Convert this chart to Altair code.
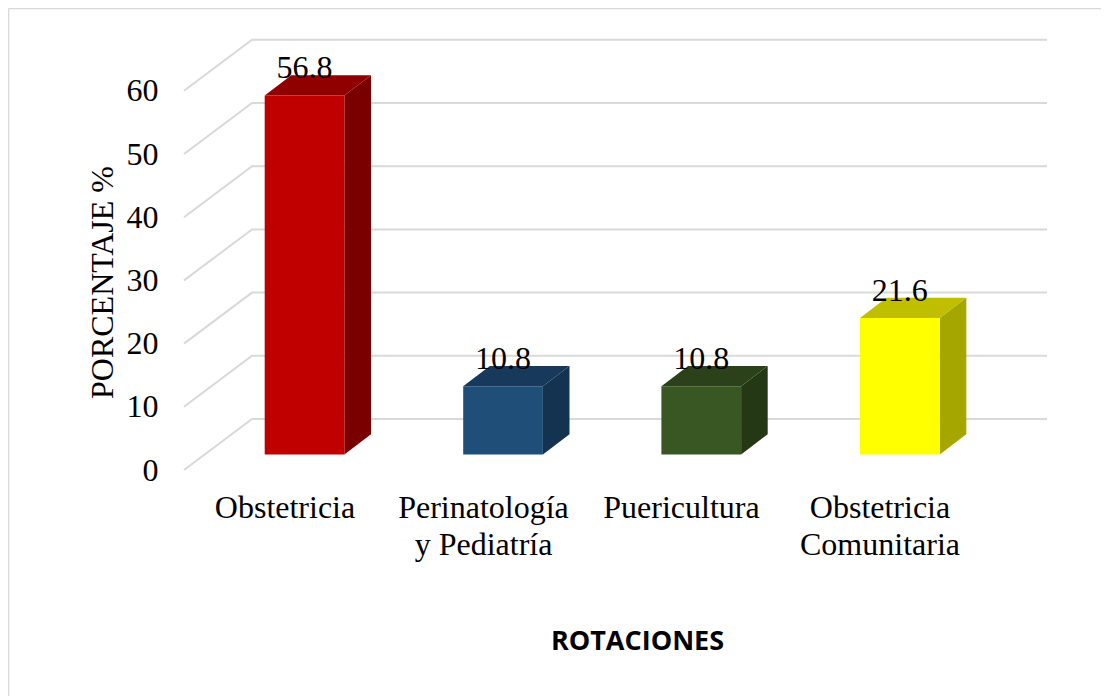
import json
import altair as alt
import pandas as pd

categories = ["Obstetricia", "Perinatología y Pediatría", "Puericultura", "Obstetricia Comunitaria"]
label_lines = [["Obstetricia"], ["Perinatología", "y Pediatría"], ["Puericultura"], ["Obstetricia", "Comunitaria"]]
values = [56.8, 10.8, 10.8, 21.6]
front_colors = ["#C00000", "#1F4E79", "#385723", "#FFFF00"]
top_colors = ["#900000", "#17395B", "#2A411A", "#BFBF00"]
side_colors = ["#7A0000", "#143350", "#243816", "#A6A600"]
y_ticks = [0, 10, 20, 30, 40, 50, 60]

FONT = "Liberation Serif"
W, H = 863, 431
PX = 6.32                       # pixels per value unit
Y_MAX = H / PX
WALL_DX, WALL_DY = 68, 51 / PX  # floor depth of the grid
BAR_LEFT = [80.7, 279.2, 477.4, 676.0]
BAR_W = 79.7
BAR_DX, BAR_DY = 26.6, 20.2 / PX
BASE = 15.6 / PX                # bar base above the axis zero
LABEL_X = [100.5, 299.0, 497.0, 695.5]

x_scale = alt.Scale(domain=[0, W], nice=False, zero=False)
y_scale = alt.Scale(domain=[0, Y_MAX], nice=False, zero=False)

label_expr = f"{json.dumps(label_lines, ensure_ascii=False)}[indexof({json.dumps(LABEL_X)}, datum.value)]"

x_axis = alt.Axis(
    values=LABEL_X, labelExpr=label_expr, domain=False, ticks=False, grid=False,
    labelFont=FONT, labelFontSize=32, labelColor="#000000", labelAngle=0,
    labelPadding=22, labelLineHeight=37, labelOverlap=False, labelBound=False,
    labelFlush=False, labelBaseline="top",
    title="ROTACIONES", titleFont="Open Sans", titleFontSize=27, titleFontWeight="bold",
    titleColor="#000000", titleX=453, titleY=158, titleAnchor="middle",
)
y_axis = alt.Axis(
    values=y_ticks, domain=False, ticks=False, grid=False,
    labelFont=FONT, labelFontSize=32, labelColor="#000000", labelPadding=26,
    labelOverlap=False, labelBound=False, labelFlush=False,
    title="PORCENTAJE %", titleFont=FONT, titleFontSize=32, titleFontWeight="normal",
    titleColor="#000000", titleX=-65, titleY=243, titleAnchor="middle",
)
X = alt.X("x:Q", scale=x_scale, axis=x_axis)
Y = alt.Y("y:Q", scale=y_scale, axis=y_axis, stack=None)

grid_rows = []
for t in y_ticks:
    for i, (gx, gy) in enumerate([(0, t), (WALL_DX, t + WALL_DY), (W, t + WALL_DY)]):
        grid_rows.append({"tick": t, "ord": i, "x": gx, "y": gy})

grid = alt.Chart(pd.DataFrame(grid_rows)).mark_line(color="#D9D9D9", strokeWidth=2).encode(
    x=X, y=Y, detail="tick:N", order="ord:Q"
)

frame_left = alt.Chart(pd.DataFrame({"a": [0]})).mark_rule(color="#D9D9D9", strokeWidth=1.6).encode(
    x=alt.value(-175.5), y=alt.value(-30.5), y2=alt.value(658)
)
frame_top = alt.Chart(pd.DataFrame({"a": [0]})).mark_rule(color="#D9D9D9", strokeWidth=1.6).encode(
    x=alt.value(-175.5), x2=alt.value(917), y=alt.value(-30.5)
)

bar_layers = []
label_rows = []
for i, v in enumerate(values):
    x0, x1 = BAR_LEFT[i], BAR_LEFT[i] + BAR_W
    b, t = BASE, BASE + v
    side_df = pd.DataFrame({
        "x": [x1, x1 + BAR_DX],
        "y": [b, b + BAR_DY],
        "y2": [t, t + BAR_DY],
    })
    top_df = pd.DataFrame({
        "x": [x0, x0 + BAR_DX, x1, x1 + BAR_DX],
        "y": [t, t, t, t + BAR_DY],
        "y2": [t, t + BAR_DY, t + BAR_DY, t + BAR_DY],
    })
    front_df = pd.DataFrame({"x": [x0], "x2": [x1], "y": [b], "y2": [t]})
    bar_layers.append(alt.Chart(side_df).mark_area(color=side_colors[i], opacity=1).encode(x=X, y=Y, y2="y2:Q"))
    bar_layers.append(alt.Chart(top_df).mark_area(color=top_colors[i], opacity=1).encode(x=X, y=Y, y2="y2:Q"))
    bar_layers.append(alt.Chart(front_df).mark_rect(color=front_colors[i], opacity=1).encode(x=X, x2="x2:Q", y=Y, y2="y2:Q"))
    label_rows.append({"x": (x0 + x1) / 2, "y": t, "label": f"{v:.1f}"})

labels = alt.Chart(pd.DataFrame(label_rows)).mark_text(
    font=FONT, fontSize=32, color="#000000", baseline="alphabetic", align="center", dy=-17
).encode(x=X, y=Y, text="label:N")

chart = (
    alt.layer(frame_left, frame_top, grid, *bar_layers, labels)
    .properties(
        width=W, height=H, background="#FFFFFF",
        padding={"left": 176, "top": 31, "right": 54, "bottom": 226},
        autosize=alt.AutoSizeParams(type="none"),
    )
    .configure_view(stroke=None)
)
chart.save("out.html", embed_options={"renderer": "svg", "actions": False})
